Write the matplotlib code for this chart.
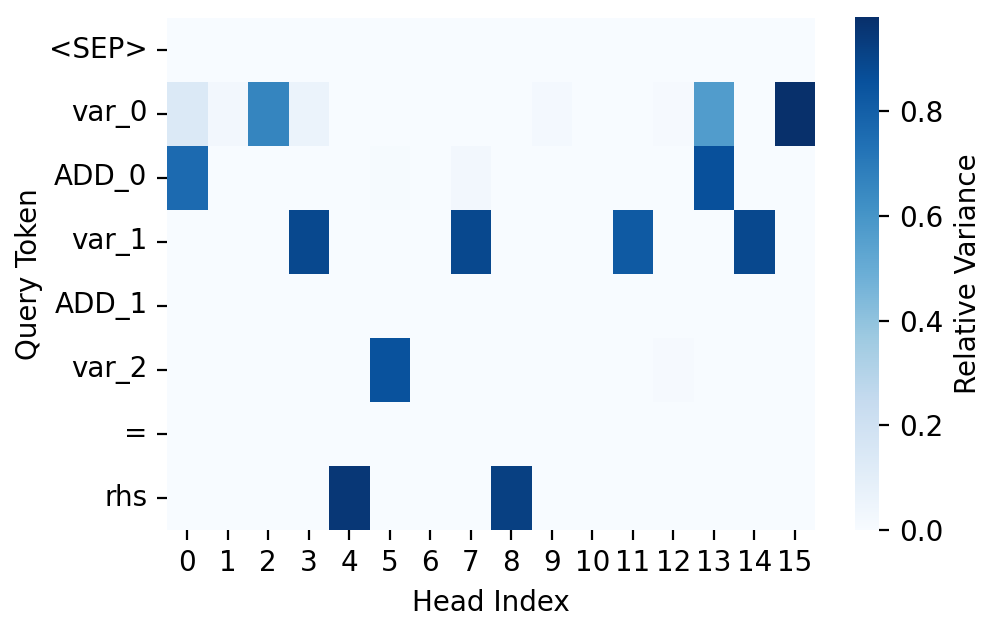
import numpy as np
import matplotlib
matplotlib.use("Agg")
import matplotlib.pyplot as plt
import seaborn as sns

# ---- data ----
query_tokens = ["<SEP>", "var_0", "ADD_0", "var_1", "ADD_1", "var_2", "=", "rhs"]
head_index = list(range(16))

row_sep = [0, 0, 0, 0, 0, 0, 0, 0, 0, 0, 0, 0, 0, 0, 0, 0]
row_var0 = [0.14, 0.03, 0.66, 0.06, 0, 0, 0, 0, 0, 0.02, 0, 0, 0.015, 0.57, 0, 0.98]
row_add0 = [0.76, 0, 0, 0, 0, 0.01, 0, 0.03, 0, 0, 0, 0, 0, 0.86, 0, 0]
row_var1 = [0, 0, 0, 0.89, 0, 0, 0, 0.89, 0, 0, 0, 0.82, 0, 0, 0.89, 0]
row_add1 = [0, 0, 0, 0, 0, 0, 0, 0, 0, 0, 0, 0, 0, 0, 0, 0]
row_var2 = [0, 0, 0, 0, 0, 0.85, 0, 0, 0, 0, 0, 0, 0.012, 0, 0, 0]
row_eq = [0, 0, 0, 0, 0, 0, 0, 0, 0, 0, 0, 0, 0, 0, 0, 0]
row_rhs = [0, 0, 0, 0, 0.95, 0, 0, 0, 0.92, 0, 0, 0, 0, 0, 0, 0]

data = np.array([row_sep, row_var0, row_add0, row_var1,
                 row_add1, row_var2, row_eq, row_rhs])

# ---- plot ----
plt.rcParams["font.size"] = 10
fig = plt.figure(figsize=(4.98, 3.15), dpi=200)
ax = fig.add_axes([0.1677, 0.1587, 0.6506, 0.8127])
cax = fig.add_axes([0.858, 0.1587, 0.025, 0.8143])
sns.heatmap(data, ax=ax, cbar_ax=cax, cmap="Blues", vmin=0,
            xticklabels=head_index, yticklabels=query_tokens,
            cbar_kws={"label": "Relative Variance"})
ax.set_xlabel("Head Index")
ax.set_ylabel("Query Token", labelpad=2)
ax.tick_params(axis="y", rotation=0)
ax.tick_params(axis="x", rotation=0)

plt.savefig("out.png", dpi=200)
